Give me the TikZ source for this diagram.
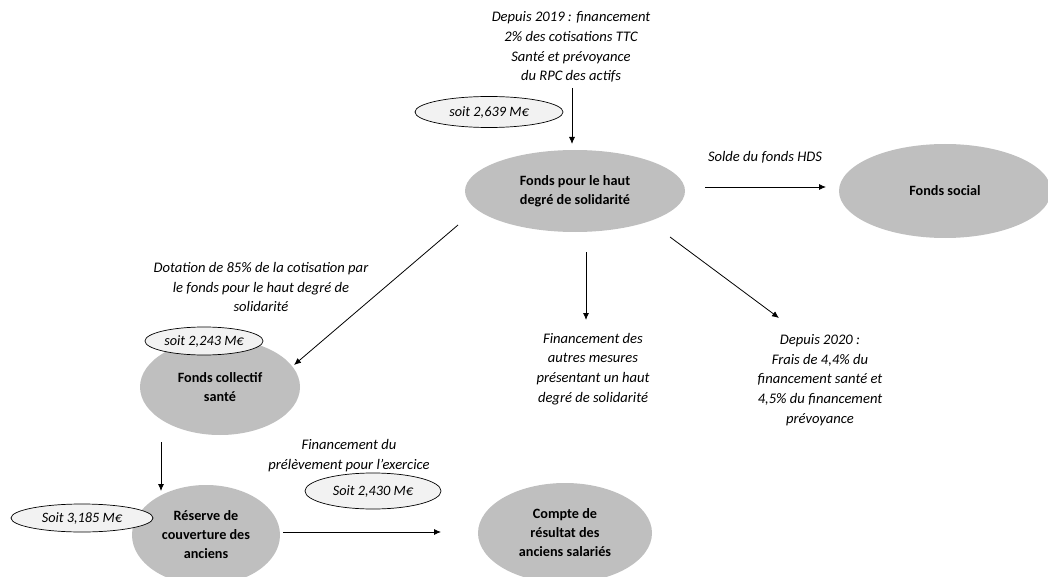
\documentclass[tikz,border=0pt]{standalone}
\usepackage{fontspec}
\setmainfont{Carlito}
\usetikzlibrary{arrows.meta,shapes.geometric}
\definecolor{fundgrey}{HTML}{BFBFBF}
\definecolor{tagfill}{HTML}{F2F2F2}
\tikzset{
  fund/.style={ellipse,fill=fundgrey,draw=none,inner sep=0pt,align=center,font=\bfseries\fontsize{14.2}{19}\selectfont},
  tag/.style={ellipse,fill=tagfill,draw=black,line width=0.7pt,inner sep=0pt,font=\itshape\fontsize{14.3}{18}\selectfont},
  note/.style={align=center,font=\itshape\fontsize{14.6}{19.8}\selectfont,inner sep=0pt},
  flow/.style={draw=black,line width=0.8pt,-{Latex[length=7pt,width=6pt]}}
}
\begin{document}
\begin{tikzpicture}[x=1pt,y=-1pt]
\useasboundingbox (0,0) rectangle (1048,577);
\begin{scope}
\clip (0,0) rectangle (1048,577);
% funds
\node[fund,minimum width=220pt,minimum height=82pt] (hds) at (575,191) {Fonds pour le haut\\degré de solidarité};
\node[fund,minimum width=212pt,minimum height=94pt] (social) at (945,191) {Fonds social};
\node[fund,minimum width=160pt,minimum height=96pt] (fcs) at (220,387) {Fonds collectif\\santé};
\node[fund,minimum width=148pt,minimum height=100pt] (res) at (206,535) {Réserve de\\couverture des\\anciens};
\node[fund,minimum width=174pt,minimum height=100pt] (cpt) at (565,533) {Compte de\\résultat des\\anciens salariés};
% tags
\node[tag,minimum width=148pt,minimum height=31pt] (t1) at (489,112) {soit 2,639 M€};
\node[tag,minimum width=118pt,minimum height=28pt] (t2) at (204,341) {soit 2,243 M€};
\node[tag,minimum width=142pt,minimum height=28pt] (t3) at (82,518) {Soit 3,185 M€};
\node[tag,minimum width=136pt,minimum height=36pt] (t4) at (373,491) {Soit 2,430 M€};
% notes
\node[note] (top) at (571,47) {Depuis 2019 : financement\\2\% des cotisations TTC\\Santé et prévoyance\\du RPC des actifs};
\node[note] (solde) at (765,157) {Solde du fonds HDS};
\node[note] (dot) at (261,287) {Dotation de 85\% de la cotisation par\\le fonds pour le haut degré de\\solidarité};
\node[note] (autres) at (593,369) {Financement des\\autres mesures\\présentant un haut\\degré de solidarité};
\node[note] (frais) at (820,380) {Depuis 2020 :\\Frais de 4,4\% du\\financement santé et\\4,5\% du financement\\prévoyance};
\node[note] (prel) at (349,456) {Financement du\\prélèvement pour l’exercice};
% connector end points
\coordinate (a1s) at (572,88);
\coordinate (a1e) at (572,144);
\coordinate (a2s) at (705,187);
\coordinate (a2e) at (826,187);
\coordinate (a3s) at (458,225);
\coordinate (a3e) at (294,365);
\coordinate (a4s) at (586,252);
\coordinate (a4e) at (586,320);
\coordinate (a5s) at (670,237);
\coordinate (a5e) at (779,318);
\coordinate (a6s) at (161,442);
\coordinate (a6e) at (161,491);
\coordinate (a7s) at (283,532);
\coordinate (a7e) at (441,532);
\draw[flow] (a1s) -- (a1e);
\draw[flow] (a2s) -- (a2e);
\draw[flow] (a3s) -- (a3e);
\draw[flow] (a4s) -- (a4e);
\draw[flow] (a5s) -- (a5e);
\draw[flow] (a6s) -- (a6e);
\draw[flow] (a7s) -- (a7e);
\end{scope}
\end{tikzpicture}
\end{document}
